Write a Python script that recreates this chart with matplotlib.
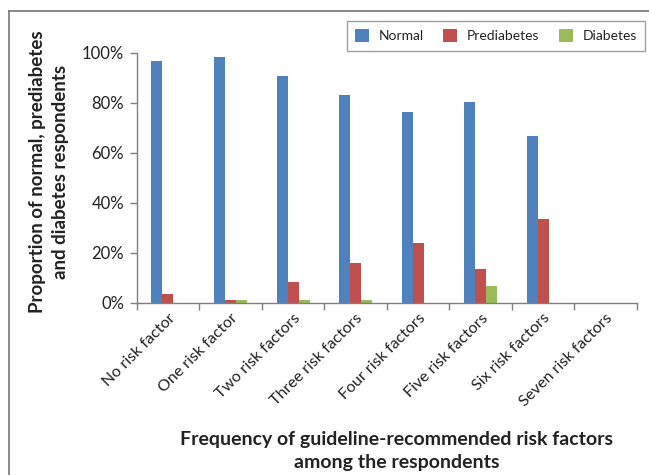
import matplotlib
matplotlib.use("Agg")
import matplotlib.pyplot as plt
import numpy as np
from matplotlib.lines import Line2D

categories = ["No risk factor", "One risk factor", "Two risk factors",
              "Three risk factors", "Four risk factors", "Five risk factors",
              "Six risk factors", "Seven risk factors"]
normal = [96.7, 98.3, 90.7, 83.1, 76.3, 80.3, 66.7, 0]
prediabetes = [3.3, 1.0, 8.3, 15.9, 23.9, 13.5, 33.3, 0]
diabetes = [0, 1.0, 1.0, 1.0, 0, 6.7, 0, 0]
series_names = ["Normal", "Prediabetes", "Diabetes"]
colors = ["#4F81BD", "#C0504D", "#9BBB59"]

plt.rcParams["font.family"] = ["Lato", "DejaVu Sans"]
TXT = "#222222"
AX = "#7f7f7f"
W, H = 649, 475

fig = plt.figure(figsize=(6.49, 4.75), dpi=100)
ax = fig.add_axes([136.7 / W, 1 - 302.7 / H, (637 - 136.7) / W, 250 / H])

x = np.arange(len(categories))
w = 0.176
for i, (vals, name, c) in enumerate(zip([normal, prediabetes, diabetes], series_names, colors)):
    ax.bar(x + (i - 1) * w, vals, width=w, color=c, label=name, zorder=2)

ax.set_xlim(-0.5, len(categories) - 0.5)
ax.set_ylim(0, 100)
ax.set_yticks(np.arange(0, 101, 20))
ax.set_yticklabels([f"{v}%" for v in range(0, 101, 20)], fontsize=12, color=TXT)
ax.set_xticks(x)
ax.set_xticklabels(categories, rotation=45, ha="right", rotation_mode="anchor",
                   fontsize=11.5, color=TXT)
ax.set_xticks(np.arange(-0.5, len(categories)), minor=True)
ax.tick_params(axis="x", which="major", length=0, pad=6)
ax.tick_params(axis="x", which="minor", length=5, color=AX, width=1)
ax.tick_params(axis="y", length=5, color=AX, width=1, pad=4)

for s in ["top", "right"]:
    ax.spines[s].set_visible(False)
for s in ["left", "bottom"]:
    ax.spines[s].set_color(AX)
    ax.spines[s].set_linewidth(1.0)

fig.text(49 / W, 1 - 172 / H, "Proportion of normal, prediabetes\nand diabetes respondents",
         rotation=90, ha="center", va="center", multialignment="center",
         fontsize=13.5, fontweight="bold", color=TXT, linespacing=1.4)
fig.text(397 / W, 1 - 451 / H,
         "Frequency of guideline-recommended risk factors\namong the respondents",
         ha="center", va="center", multialignment="center",
         fontsize=14, fontweight="bold", color=TXT, linespacing=1.4)

leg = fig.legend(loc="upper right", bbox_to_anchor=(645 / W, 1 - 21 / H),
                 borderaxespad=0, ncol=3, fontsize=10, frameon=True, fancybox=False,
                 handlelength=1.0, handleheight=1.0, columnspacing=1.4,
                 handletextpad=0.7, borderpad=0.6)
leg.get_frame().set_edgecolor("#888888")
leg.get_frame().set_linewidth(1.0)
for t in leg.get_texts():
    t.set_color(TXT)

# outer frame (top and left edges visible)
fig.add_artist(Line2D([9 / W, 1], [1 - 11 / H, 1 - 11 / H],
                      transform=fig.transFigure, color="#777777", lw=1.2))
fig.add_artist(Line2D([9 / W, 9 / W], [0, 1 - 11 / H],
                      transform=fig.transFigure, color="#777777", lw=1.2))

fig.savefig("out.png", dpi=100)
